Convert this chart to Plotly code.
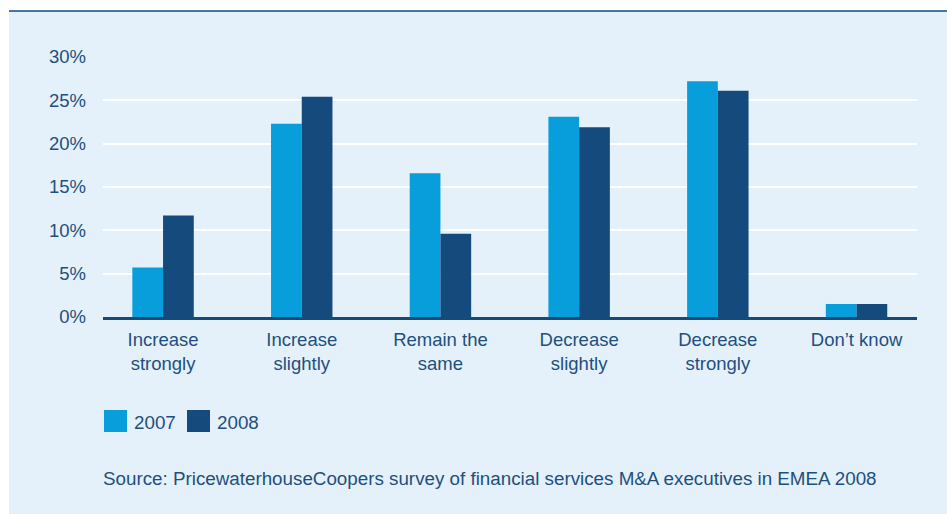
import plotly.graph_objects as go

categories = ["Increase<br>strongly", "Increase<br>slightly", "Remain the<br>same",
              "Decrease<br>slightly", "Decrease<br>strongly", "Don\u2019t know"]
series_names = ["2007", "2008"]
values_2007 = [5.7, 22.3, 16.6, 23.1, 27.2, 1.5]
values_2008 = [11.7, 25.4, 9.6, 21.9, 26.1, 1.5]
y_ticks = [0, 5, 10, 15, 20, 25, 30]
y_ticktext = [f"{v}%" for v in y_ticks]
source_text = "Source: PricewaterhouseCoopers survey of financial services M&A executives in EMEA 2008"

LIGHT = "#079edb"
DARK = "#154a7c"
TEXT = "#1f4f80"
PANEL = "#e4f1fa"
FONT = "Liberation Sans, Arial, sans-serif"

W, H = 947, 514
L, R, T, B = 103, 917, 57, 317  # plot area in pixels


def px(x):
    return (x - L) / (R - L)


def py(y):
    return (B - y) / (B - T)


fig = go.Figure()
fig.add_trace(go.Bar(x=list(range(len(categories))), y=values_2007, name=series_names[0],
                     marker=dict(color=LIGHT, line=dict(width=0))))
fig.add_trace(go.Bar(x=list(range(len(categories))), y=values_2008, name=series_names[1],
                     marker=dict(color=DARK, line=dict(width=0))))

shapes = [
    # light panel + top rule
    dict(type="rect", xref="paper", yref="paper", x0=px(9), x1=px(W + 5), y0=py(H + 5), y1=py(11),
         fillcolor=PANEL, line=dict(width=0), layer="below"),
    dict(type="line", xref="paper", yref="paper", x0=px(9), x1=px(W + 5), y0=py(11), y1=py(11),
         line=dict(color=DARK, width=1.5), layer="below"),
]
annotations = []

# legend drawn by hand so the swatches can be large
leg_x = [104, 187]
for i, (name, col) in enumerate(zip(series_names, [LIGHT, DARK])):
    shapes.append(dict(type="rect", xref="paper", yref="paper",
                       x0=px(leg_x[i]), x1=px(leg_x[i] + 23), y0=py(432), y1=py(410),
                       fillcolor=col, line=dict(width=0)))
    annotations.append(dict(xref="paper", yref="paper", x=px(leg_x[i] + 28), y=py(422),
                            text=name, showarrow=False, xanchor="left", yanchor="middle",
                            font=dict(size=18.8, color=TEXT, family=FONT)))

annotations.append(dict(xref="paper", yref="paper", x=px(101), y=py(478), text=source_text,
                        showarrow=False, xanchor="left", yanchor="middle",
                        font=dict(size=18.8, color=TEXT, family=FONT)))

fig.update_layout(
    width=W, height=H, autosize=False,
    margin=dict(l=L, r=W - R, t=T, b=H - B, pad=0),
    paper_bgcolor="white", plot_bgcolor=PANEL,
    barmode="group", bargap=0.557, bargroupgap=0,
    showlegend=False,
    font=dict(family=FONT, size=18.5, color=TEXT),
    shapes=shapes, annotations=annotations,
    xaxis=dict(tickmode="array", tickvals=list(range(len(categories))), ticktext=categories,
               range=[-0.433, 5.436], showgrid=False, zeroline=False,
               showline=True, linecolor=DARK, linewidth=2.5, ticks="",
               ticklabelstandoff=4, fixedrange=True),
    yaxis=dict(range=[0, 30], tickmode="array", tickvals=y_ticks, ticktext=y_ticktext,
               showgrid=True, gridcolor="white", gridwidth=2, zeroline=False, showline=False,
               ticks="", ticklabelstandoff=16, fixedrange=True),
)

fig.write_html("out.html", config={"displayModeBar": False},
               post_script="document.body.style.margin='0';")
